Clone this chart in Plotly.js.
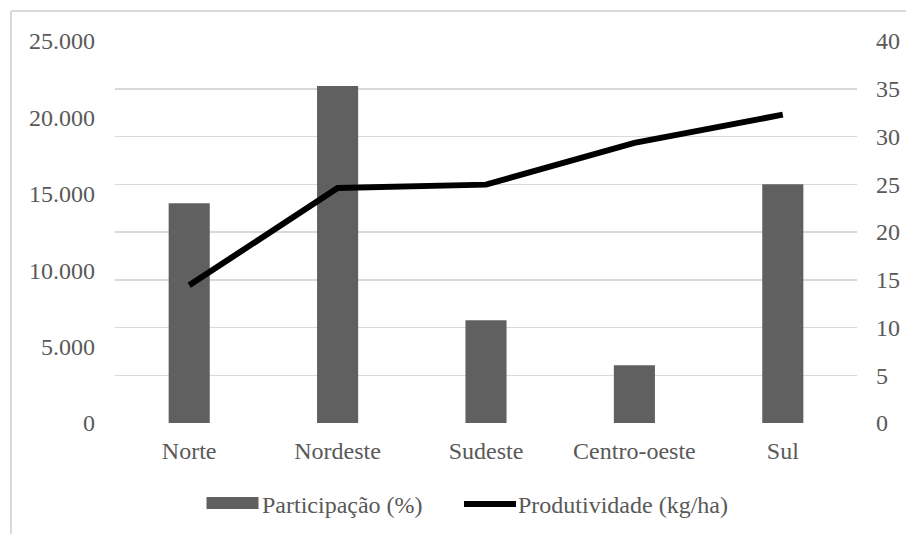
<!DOCTYPE html>
<html>
<head>
<meta charset="utf-8">
<script src="https://cdn.plot.ly/plotly-3.0.1.min.js"></script>
<style>
  html, body { margin: 0; padding: 0; background: #ffffff; }
  #chart { width: 906px; height: 534px; }
</style>
</head>
<body>
<div id="chart"></div>
<script>
// ---- data ----
const regioes = ["Norte", "Nordeste", "Sudeste", "Centro-oeste", "Sul"];
const participacao = [23.0, 35.3, 10.75, 6.05, 25.0];          // %  (right axis)
const produtividade = [9010, 15380, 15600, 18330, 20180];       // kg/ha (left axis)
const leftTicks = [0, 5000, 10000, 15000, 20000, 25000];
const rightTicks = [0, 5, 10, 15, 20, 25, 30, 35, 40];
const nomeBarra = "Participação (%)";
const nomeLinha = "Produtividade (kg/ha)";

const FONT = "Liberation Serif";
const TXT = "#595959";
const FS = 24;

const barTrace = {
  type: "bar",
  name: nomeBarra,
  x: regioes,
  y: participacao,
  yaxis: "y",
  width: 0.277,
  marker: { color: "#606060" },
  showlegend: false
};

const lineTrace = {
  type: "scatter",
  mode: "lines",
  name: nomeLinha,
  x: regioes,
  y: produtividade,
  yaxis: "y2",
  line: { color: "#000000", width: 6 },
  showlegend: false
};

// decoration positions in paper coordinates
const P = (px) => (px - 115) / 742;
const Q = (py) => (423 - py) / 382;

const layout = {
  width: 906,
  height: 534,
  margin: { l: 115, r: 49, t: 41, b: 111 },
  paper_bgcolor: "#ffffff",
  plot_bgcolor: "#ffffff",
  separators: ",.",
  font: { family: FONT, size: FS, color: TXT },
  xaxis: {
    type: "category",
    showgrid: false,
    zeroline: false,
    showline: false,
    ticks: "",
    tickfont: { family: FONT, size: FS, color: TXT },
    ticklabelstandoff: 11
  },
  yaxis: {
    side: "right",
    range: [0, 40],
    tickvals: rightTicks,
    ticktext: rightTicks.map(String),
    showgrid: true,
    gridcolor: "#d9d9d9",
    gridwidth: 1.5,
    zeroline: false,
    showline: false,
    ticks: "",
    tickfont: { family: FONT, size: FS, color: TXT },
    ticklabelstandoff: 18
  },
  yaxis2: {
    side: "left",
    overlaying: "y",
    range: [0, 25000],
    tickvals: leftTicks,
    tickformat: ",d",
    showgrid: false,
    zeroline: false,
    showline: false,
    ticks: "",
    tickfont: { family: FONT, size: FS, color: TXT },
    ticklabelstandoff: 19
  },
  shapes: [
    // chart frame (top and left edges visible)
    { type: "line", xref: "paper", yref: "paper", layer: "below",
      x0: P(11), x1: P(920), y0: Q(11), y1: Q(11),
      line: { color: "#d9d9d9", width: 2 } },
    { type: "line", xref: "paper", yref: "paper", layer: "below",
      x0: P(11), x1: P(11), y0: Q(11), y1: Q(560),
      line: { color: "#d9d9d9", width: 2 } },
    // legend swatches
    { type: "rect", xref: "paper", yref: "paper",
      x0: P(206.5), x1: P(258.5), y0: Q(509), y1: Q(497),
      fillcolor: "#606060", line: { width: 0 } },
    { type: "line", xref: "paper", yref: "paper",
      x0: P(464), x1: P(516), y0: Q(504), y1: Q(504),
      line: { color: "#000000", width: 6 } }
  ],
  annotations: [
    { xref: "paper", yref: "paper", x: P(260), y: Q(505), xanchor: "left", yanchor: "middle",
      text: nomeBarra, showarrow: false, font: { family: FONT, size: FS, color: TXT } },
    { xref: "paper", yref: "paper", x: P(516), y: Q(505), xanchor: "left", yanchor: "middle",
      text: nomeLinha, showarrow: false, font: { family: FONT, size: FS, color: TXT } }
  ]
};

Plotly.newPlot("chart", [barTrace, lineTrace], layout, { displayModeBar: false, staticPlot: true });
</script>
</body>
</html>
